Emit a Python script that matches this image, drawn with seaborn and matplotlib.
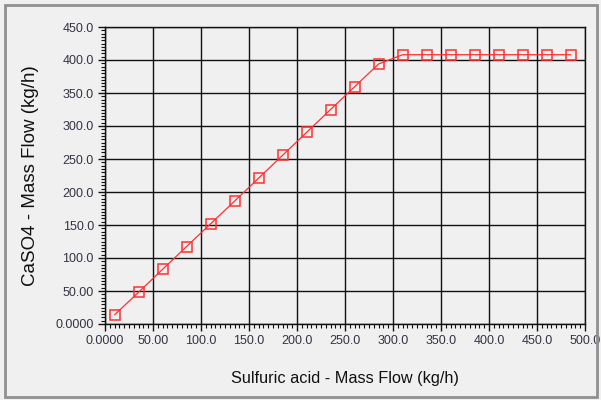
import matplotlib
matplotlib.use("Agg")
import matplotlib.pyplot as plt
import seaborn as sns
import pandas as pd
from matplotlib.patches import Rectangle
from matplotlib.ticker import MultipleLocator, FixedLocator, FixedFormatter

acid = [10, 35, 60, 85, 110, 135, 160, 185, 210, 235, 260, 285,
        310, 335, 360, 385, 410, 435, 460, 485]
caso4 = [13.9, 48.2, 82.8, 117.4, 151.8, 186.2, 221.0, 255.6, 290.4, 325.0, 359.4, 394.0,
         408.0, 408.0, 408.0, 408.0, 408.0, 408.0, 408.0, 408.0]
x_ticks = [0, 50, 100, 150, 200, 250, 300, 350, 400, 450, 500]
x_labels = ["0.0000", "50.00", "100.0", "150.0", "200.0", "250.0", "300.0", "350.0", "400.0", "450.0", "500.0"]
y_ticks = [0, 50, 100, 150, 200, 250, 300, 350, 400, 450]
y_labels = ["0.0000", "50.00", "100.0", "150.0", "200.0", "250.0", "300.0", "350.0", "400.0", "450.0"]

df = pd.DataFrame({"acid": acid, "caso4": caso4})

sns.set_style("white")
plt.rcParams["font.family"] = ["Liberation Sans", "DejaVu Sans"]

bg = "#f0f0f0"
fig = plt.figure(figsize=(6.01, 4.00), dpi=100, facecolor=bg)
ax = fig.add_axes([105/601, 1-324/400, 480/601, 297/400])
ax.set_facecolor(bg)

sns.lineplot(data=df, x="acid", y="caso4", ax=ax, color="#ff3030", linewidth=0.9,
             marker="s", markersize=7.5, markerfacecolor="none",
             markeredgecolor="#ff3030", markeredgewidth=1.1, zorder=5)

ax.set_xlim(0, 500)
ax.set_ylim(0, 450)
ax.xaxis.set_major_locator(FixedLocator(x_ticks))
ax.xaxis.set_major_formatter(FixedFormatter(x_labels))
ax.yaxis.set_major_locator(FixedLocator(y_ticks))
ax.yaxis.set_major_formatter(FixedFormatter(y_labels))
ax.xaxis.set_minor_locator(MultipleLocator(5))
ax.yaxis.set_minor_locator(MultipleLocator(5))
ax.grid(True, which="major", color="#111111", linewidth=1.0)
ax.set_axisbelow(True)
for s in ax.spines.values():
    s.set_color("#111111")
    s.set_linewidth(1.0)
ax.tick_params(axis="both", which="major", direction="out", length=5, width=1,
               color="#111111", labelsize=9, labelcolor="#333344", pad=3, left=True, bottom=True)
ax.tick_params(axis="both", which="minor", direction="out", length=3, width=0.8,
               color="#111111", left=True, bottom=True)

ax.set_xlabel("Sulfuric acid - Mass Flow (kg/h)", fontsize=11.7, color="#111111", labelpad=17)
ax.set_ylabel("CaSO4 - Mass Flow (kg/h)", fontsize=13.5, color="#111111", labelpad=12)

fig.patches.append(Rectangle((5/601, 3/400), 592/601, 392/400, transform=fig.transFigure,
                             fill=False, edgecolor="#909090", linewidth=2))

fig.savefig("out.png", dpi=100, facecolor=bg)
